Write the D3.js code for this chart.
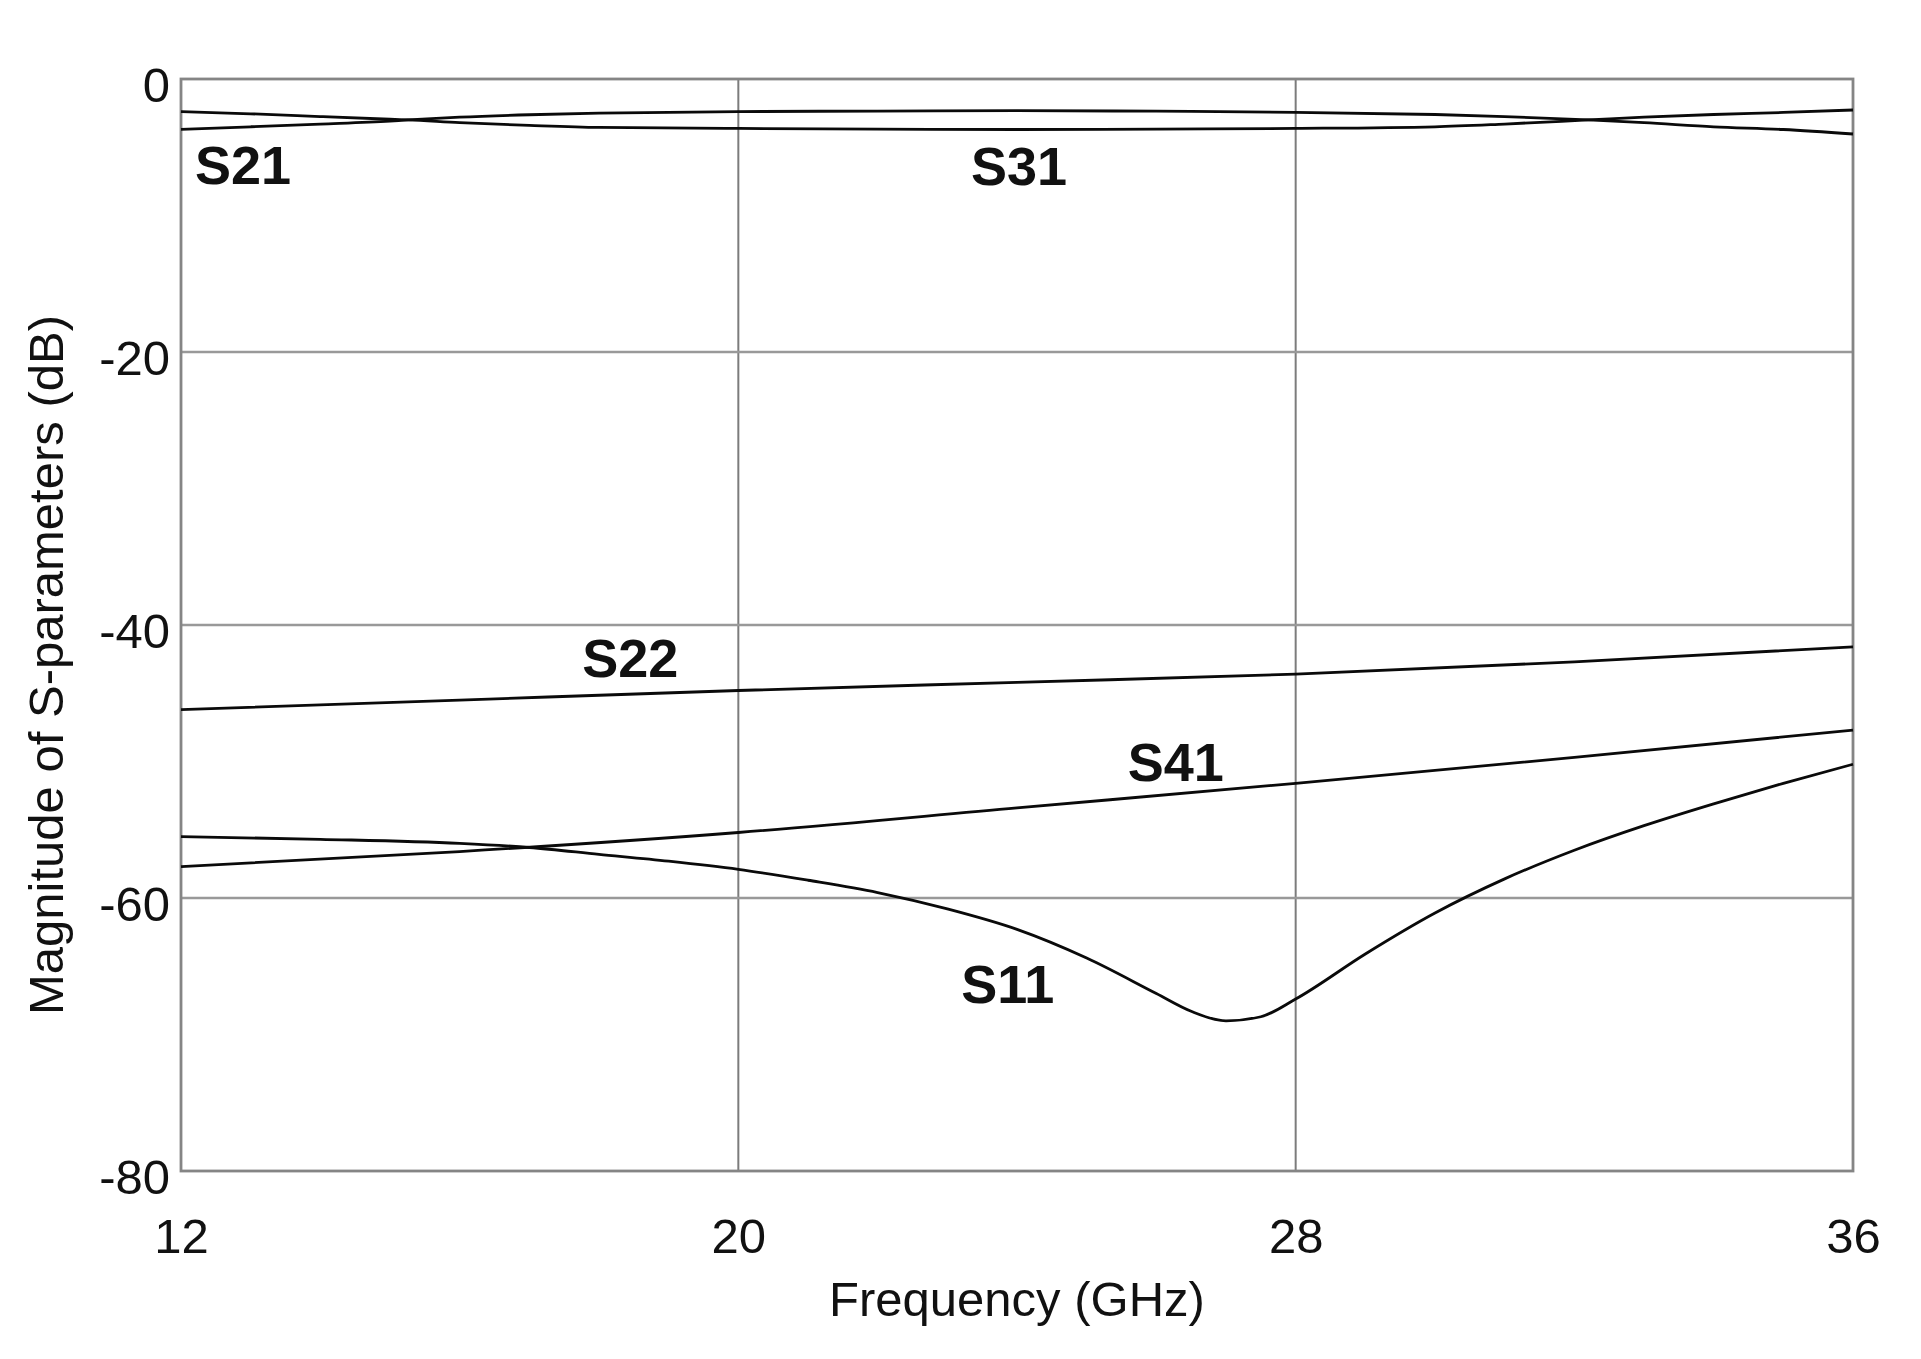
<!DOCTYPE html>
<html lang="en">
<head>
  <meta charset="UTF-8">
  <title>S-parameters vs Frequency</title>
  <style>
    body { margin: 0; background: #fff; }
    svg text { font-family: "Liberation Sans", Arial, sans-serif; fill: #111; }
  </style>
</head>
<body>
  <div id="chart"></div>

  <script src="https://d3js.org/d3.v7.min.js"></script>
  <script>

    // frequency points (GHz) and magnitudes (dB)
    const freqTop = [12, 13, 14, 15, 15.26, 16, 17, 18, 20, 22, 24, 26, 28, 30, 31, 32.2, 33, 34, 35, 36];
    const s21 = [-2.39, -2.55, -2.75, -2.95, -3.0, -3.2, -3.4, -3.55, -3.62, -3.67, -3.70, -3.67, -3.62, -3.5, -3.3, -3.0, -2.8, -2.6, -2.45, -2.27];
    const s31 = [-3.69, -3.5, -3.3, -3.08, -3.0, -2.8, -2.62, -2.5, -2.39, -2.35, -2.32, -2.36, -2.44, -2.6, -2.75, -3.0, -3.2, -3.5, -3.7, -4.03];

    const freqLin = [12, 16, 20, 24, 28, 32, 36];
    const s22 = [-46.2, -45.5, -44.8, -44.2, -43.6, -42.7, -41.6];
    const s41 = [-57.7, -56.6, -55.2, -53.4, -51.6, -49.7, -47.7];

    const freqS11 = [12, 14, 16, 17, 18, 19, 20, 21, 22, 23, 24, 25, 26, 26.5, 27, 27.5, 28, 29, 30, 31, 32, 33, 34, 35, 36];
    const s11 = [-55.5, -55.7, -56.0, -56.3, -56.8, -57.3, -57.9, -58.7, -59.6, -60.8, -62.3, -64.4, -67.0, -68.3, -69.0, -68.7, -67.4, -64.1, -61.1, -58.6, -56.5, -54.7, -53.1, -51.6, -50.2];

    const xTicks = [12, 20, 28, 36];
    const yTicks = [0, -20, -40, -60, -80];

    const labels = [
      {text: "S21", f: 12.2, db: -7.7},
      {text: "S31", f: 23.34, db: -7.8},
      {text: "S22", f: 17.76, db: -43.8},
      {text: "S41", f: 25.59, db: -51.4},
      {text: "S11", f: 23.2, db: -67.7}
    ];

    const width = 1921,
          height = 1359,
          margin = {top: 79, right: 68, bottom: 188, left: 181};

    const svg = d3.select("#chart")
      .append("svg")
      .attr("width", width)
      .attr("height", height)
      .attr("viewBox", [0, 0, width, height]);

    svg.append("rect").attr("width", width).attr("height", height).attr("fill", "#fff");

    let x = d3.scaleLinear([12, 36], [margin.left, width - margin.right]);
    let y = d3.scaleLinear([-80, 0], [height - margin.bottom, margin.top]);

    // grid
    svg.append("g")
      .selectAll("line")
      .data(xTicks.slice(1, -1))
      .join("line")
      .attr("x1", d => x(d)).attr("x2", d => x(d))
      .attr("y1", y(0)).attr("y2", y(-80))
      .attr("stroke", "#7c7c7c").attr("stroke-width", 2);

    svg.append("g")
      .selectAll("line")
      .data(yTicks.slice(1, -1))
      .join("line")
      .attr("x1", x(12)).attr("x2", x(36))
      .attr("y1", d => y(d)).attr("y2", d => y(d))
      .attr("stroke", "#999").attr("stroke-width", 2.5);

    // frame
    svg.append("rect")
      .attr("x", x(12)).attr("y", y(0))
      .attr("width", x(36) - x(12)).attr("height", y(-80) - y(0))
      .attr("fill", "none").attr("stroke", "#858585").attr("stroke-width", 2.8);

    // axes (labels only, the frame draws the lines)
    const xAxis = svg.append("g")
      .attr("transform", `translate(0,${y(-80)})`)
      .call(d3.axisBottom(x).tickValues(xTicks).tickSize(0).tickPadding(0).tickFormat(d => String(d)));
    xAxis.select(".domain").remove();
    xAxis.selectAll("text")
      .attr("dy", null)
      .attr("y", 82)
      .style("font-size", "49px")
      .style("font-family", "'Liberation Sans', Arial, sans-serif")
      .attr("fill", "#111");

    const yAxis = svg.append("g")
      .attr("transform", `translate(${x(12)},0)`)
      .call(d3.axisLeft(y).tickValues(yTicks).tickSize(0).tickPadding(11).tickFormat(d => String(d)));
    yAxis.select(".domain").remove();
    yAxis.selectAll("text")
      .attr("dy", "0.45em")
      .style("font-size", "49px")
      .style("font-family", "'Liberation Sans', Arial, sans-serif")
      .attr("fill", "#111");

    // curves
    const line = d3.line()
      .x(d => x(d[0]))
      .y(d => y(d[1]))
      .curve(d3.curveMonotoneX);

    const series = [
      d3.zip(freqTop, s21),
      d3.zip(freqTop, s31),
      d3.zip(freqLin, s22),
      d3.zip(freqLin, s41),
      d3.zip(freqS11, s11)
    ];

    svg.append("g")
      .selectAll("path")
      .data(series)
      .join("path")
      .attr("d", line)
      .attr("fill", "none")
      .attr("stroke", "#0a0a0a")
      .attr("stroke-width", 2.8);

    // curve labels
    svg.append("g")
      .selectAll("text")
      .data(labels)
      .join("text")
      .attr("x", d => x(d.f))
      .attr("y", d => y(d.db))
      .style("font-size", "54px")
      .style("font-weight", "bold")
      .text(d => d.text);

    // axis titles
    svg.append("text")
      .attr("x", (x(12) + x(36)) / 2)
      .attr("y", 1316)
      .attr("text-anchor", "middle")
      .style("font-size", "49px")
      .text("Frequency (GHz)");

    svg.append("text")
      .attr("transform", "translate(63,665) rotate(-90)")
      .attr("text-anchor", "middle")
      .style("font-size", "49px")
      .text("Magnitude of S-parameters (dB)");

  </script>
</body>
</html>
